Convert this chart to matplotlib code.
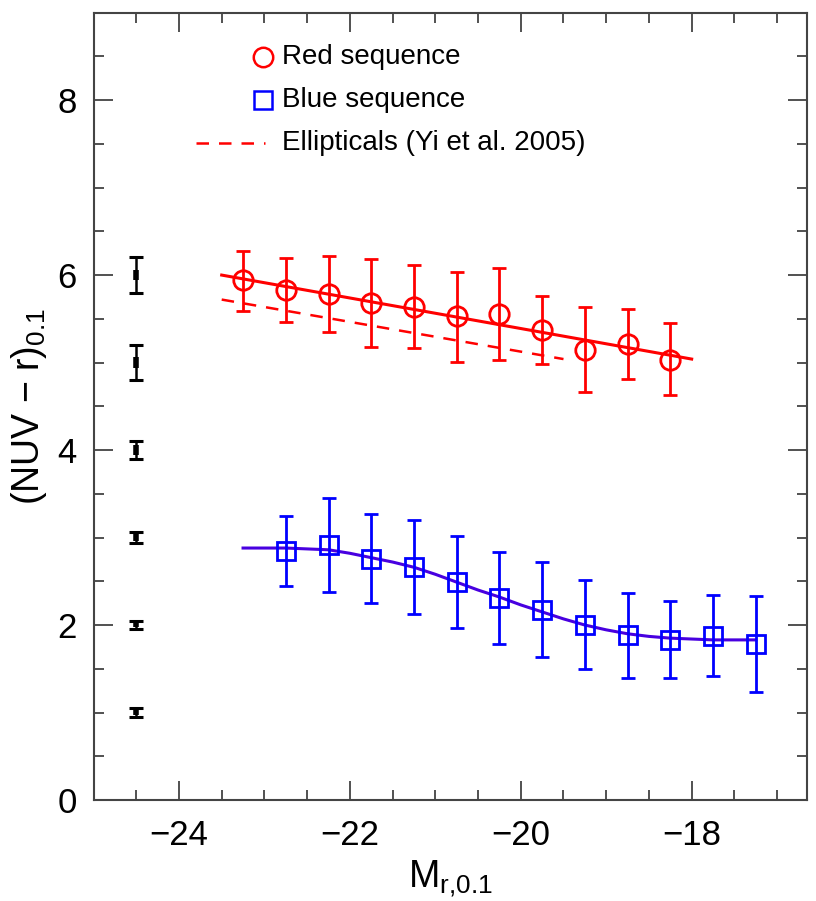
import matplotlib
matplotlib.use("Agg")
import matplotlib.pyplot as plt
from matplotlib.ticker import MultipleLocator

plt.rcParams['font.family'] = ['Liberation Sans', 'DejaVu Sans']
plt.rcParams['mathtext.fontset'] = 'custom'
plt.rcParams['mathtext.rm'] = 'Liberation Sans'
plt.rcParams['mathtext.it'] = 'Liberation Sans'

# Red sequence
red_x = [-23.25, -22.75, -22.25, -21.75, -21.25, -20.75, -20.25, -19.75, -19.25, -18.75, -18.25]
red_y = [5.94, 5.83, 5.78, 5.68, 5.64, 5.53, 5.56, 5.37, 5.14, 5.21, 5.03]
red_top = [6.28, 6.19, 6.22, 6.18, 6.11, 6.04, 6.08, 5.76, 5.63, 5.61, 5.45]
red_bot = [5.59, 5.46, 5.35, 5.18, 5.17, 5.01, 5.03, 4.98, 4.66, 4.81, 4.63]
red_fit_x = [-23.5, -18.0]
red_fit_y = [6.00, 5.04]
yi_x = [-23.5, -19.5]
yi_y = [5.72, 5.04]

# Blue sequence
blue_x = [-22.75, -22.25, -21.75, -21.25, -20.75, -20.25, -19.75, -19.25, -18.75, -18.25, -17.75, -17.25]
blue_y = [2.85, 2.92, 2.76, 2.66, 2.49, 2.31, 2.17, 2.00, 1.89, 1.83, 1.88, 1.78]
blue_top = [3.25, 3.45, 3.27, 3.20, 3.02, 2.84, 2.72, 2.51, 2.37, 2.27, 2.34, 2.33]
blue_bot = [2.45, 2.38, 2.25, 2.13, 1.97, 1.78, 1.63, 1.50, 1.40, 1.39, 1.42, 1.23]
blue_fit_x = [-23.25, -22.75, -22.25, -22.0, -21.75, -21.5, -21.25, -21.0, -20.75, -20.5, -20.25,
              -20.0, -19.75, -19.5, -19.25, -19.0, -18.75, -18.5, -18.25, -17.75, -17.25]
blue_fit_y = [2.88, 2.88, 2.86, 2.82, 2.77, 2.72, 2.66, 2.58, 2.49, 2.40, 2.32,
              2.23, 2.15, 2.07, 2.00, 1.945, 1.90, 1.87, 1.85, 1.83, 1.83]

# Reference error bars
ref_x = [-24.5] * 6
ref_y = [6.0, 5.0, 4.0, 3.0, 2.0, 1.0]
ref_err = [0.21, 0.20, 0.105, 0.065, 0.05, 0.05]
ref_err_inner = [0.06, 0.06, 0.06, 0.035, 0.025, 0.025]

legend_labels = ['Red sequence', 'Blue sequence', 'Ellipticals (Yi et al. 2005)']

fig = plt.figure(figsize=(8.16, 9.01), dpi=100)
ax = fig.add_axes([0.1146, 0.1121, 0.989 - 0.1146, 0.986 - 0.1121])

red = '#ff0000'
blue = '#0000ff'
bluefit = '#4800e0'
dash = (0, (5, 4))

# fits
ax.plot(red_fit_x, red_fit_y, color=red, lw=2.2, zorder=2)
ax.plot(yi_x, yi_y, color=red, lw=1.8, ls=dash, zorder=2)
ax.plot(blue_fit_x, blue_fit_y, color=bluefit, lw=2.2, zorder=2)

# data
ax.errorbar(red_x, red_y,
            yerr=[[y - b for y, b in zip(red_y, red_bot)], [t - y for y, t in zip(red_y, red_top)]],
            fmt='o', color=red, mfc='none', mec=red, mew=2.0, ms=14,
            elinewidth=2.0, capsize=5, capthick=2.0, zorder=3)
ax.errorbar(blue_x, blue_y,
            yerr=[[y - b for y, b in zip(blue_y, blue_bot)], [t - y for y, t in zip(blue_y, blue_top)]],
            fmt='s', color=blue, mfc='none', mec=blue, mew=2.0, ms=13,
            elinewidth=2.0, capsize=5, capthick=2.0, zorder=3)

ax.errorbar(ref_x, ref_y, yerr=ref_err, fmt='none', ecolor='black',
            elinewidth=1.8, capsize=5, capthick=2.2, zorder=3)
ax.errorbar(ref_x, ref_y, yerr=ref_err_inner, fmt='none', ecolor='black',
            elinewidth=4.0, capsize=0, zorder=3)

ax.set_xlim(-25, -16.65)
ax.set_ylim(0, 9)
ax.xaxis.set_major_locator(MultipleLocator(2))
ax.xaxis.set_minor_locator(MultipleLocator(0.5))
ax.yaxis.set_major_locator(MultipleLocator(2))
ax.yaxis.set_minor_locator(MultipleLocator(0.5))
ax.tick_params(which='both', direction='in', top=True, right=True, color='#333333')
ax.tick_params(which='major', length=14, width=1.2, labelsize=25, pad=12)
ax.tick_params(which='minor', length=7, width=1.2)
ax.tick_params(axis='x', which='major', pad=14)
for s in ax.spines.values():
    s.set_color('#444444')
    s.set_linewidth(1.5)

ax.set_xlabel(r'M$_{\mathrm{r{,}0.1}}$', fontsize=27, labelpad=4)
ax.set_ylabel(r'(NUV $-$ r)$_{\mathrm{0.1}}$', fontsize=27, labelpad=6)

# manual legend (axes coordinates)
T = ax.transAxes
row_y = [0.944, 0.889, 0.8346]
ax.plot([0.2375], [row_y[0]], transform=T, ls='none', marker='o', mfc='none',
        mec=red, mew=1.8, ms=14, clip_on=False)
ax.plot([0.2375], [row_y[1]], transform=T, ls='none', marker='s', mfc='none',
        mec=blue, mew=1.8, ms=13, clip_on=False)
ax.plot([0.1437, 0.2403], [row_y[2], row_y[2]], transform=T, color=red, lw=1.8,
        ls=dash, clip_on=False)
for yy, lab in zip(row_y, legend_labels):
    ax.text(0.264, yy, lab, transform=T, fontsize=20, va='center', ha='left')

fig.savefig('out.png', dpi=100)
